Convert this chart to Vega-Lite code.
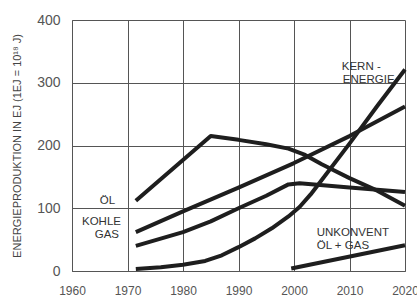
{
  "$schema": "https://vega.github.io/schema/vega-lite/v6.json",
  "autosize": "none",
  "padding": {"left": 72, "top": 20, "right": 12, "bottom": 29},
  "width": 333,
  "height": 251,
  "background": "white",
  "config": {
    "view": {"stroke": null},
    "font": "Liberation Sans"
  },
  "datasets": {
    "lines": [
      {"series": "Öl", "year": 1971.5, "value": 112},
      {"series": "Öl", "year": 1985, "value": 215},
      {"series": "Öl", "year": 1990, "value": 209},
      {"series": "Öl", "year": 1995, "value": 202},
      {"series": "Öl", "year": 1999, "value": 195},
      {"series": "Öl", "year": 2002, "value": 185},
      {"series": "Öl", "year": 2005, "value": 170},
      {"series": "Öl", "year": 2010, "value": 148},
      {"series": "Öl", "year": 2015, "value": 128},
      {"series": "Öl", "year": 2020, "value": 104},
      {"series": "Kohle", "year": 1971.5, "value": 62},
      {"series": "Kohle", "year": 1980, "value": 95},
      {"series": "Kohle", "year": 1990, "value": 133},
      {"series": "Kohle", "year": 2000, "value": 172},
      {"series": "Kohle", "year": 2010, "value": 215},
      {"series": "Kohle", "year": 2020, "value": 262},
      {"series": "Gas", "year": 1971.5, "value": 40},
      {"series": "Gas", "year": 1980, "value": 62},
      {"series": "Gas", "year": 1985, "value": 79},
      {"series": "Gas", "year": 1990, "value": 100},
      {"series": "Gas", "year": 1995, "value": 120},
      {"series": "Gas", "year": 1999, "value": 138},
      {"series": "Gas", "year": 2001, "value": 140},
      {"series": "Gas", "year": 2010, "value": 133},
      {"series": "Gas", "year": 2020, "value": 126},
      {"series": "Kern", "year": 1971.5, "value": 3},
      {"series": "Kern", "year": 1976, "value": 6},
      {"series": "Kern", "year": 1980, "value": 10},
      {"series": "Kern", "year": 1984, "value": 16},
      {"series": "Kern", "year": 1987, "value": 25},
      {"series": "Kern", "year": 1990, "value": 38},
      {"series": "Kern", "year": 1993, "value": 52},
      {"series": "Kern", "year": 1996, "value": 68},
      {"series": "Kern", "year": 1999, "value": 87},
      {"series": "Kern", "year": 2001, "value": 102},
      {"series": "Kern", "year": 2003, "value": 122},
      {"series": "Kern", "year": 2005, "value": 145},
      {"series": "Kern", "year": 2010, "value": 203},
      {"series": "Kern", "year": 2015, "value": 263},
      {"series": "Kern", "year": 2020, "value": 321},
      {"series": "Unkonvent", "year": 1999.5, "value": 4},
      {"series": "Unkonvent", "year": 2020, "value": 41}
    ],
    "labels": [
      {"label": "ÖL", "year": 1965, "value": 111},
      {"label": "KOHLE", "year": 1961.8, "value": 78},
      {"label": "GAS", "year": 1964.1, "value": 57},
      {"label": "KERN -", "year": 2008.6, "value": 325},
      {"label": "ENERGIE", "year": 2008.8, "value": 304},
      {"label": "UNKONVENT", "year": 2004.1, "value": 61},
      {"label": "ÖL + GAS", "year": 2004.1, "value": 40}
    ]
  },
  "layer": [
    {
      "data": {"name": "lines"},
      "mark": {"type": "line", "stroke": "#1e1e1e", "strokeWidth": 4, "interpolate": "linear", "strokeJoin": "round", "strokeCap": "butt"},
      "encoding": {
        "x": {
          "field": "year", "type": "quantitative",
          "scale": {"domain": [1960, 2020], "nice": false, "zero": false},
          "axis": {
            "values": [1960, 1970, 1980, 1990, 2000, 2010, 2020],
            "format": "d", "title": null,
            "grid": true, "gridColor": "#555", "gridOpacity": 1, "gridWidth": 1,
            "domain": true, "domainColor": "#555", "domainWidth": 1,
            "ticks": false, "labelPadding": 14,
            "labelFontSize": 12, "labelColor": "#555", "labelFont": "Liberation Sans",
            "labelFlush": false
          }
        },
        "y": {
          "field": "value", "type": "quantitative",
          "scale": {"domain": [0, 400], "nice": false},
          "axis": {
            "values": [0, 100, 200, 300, 400],
            "title": "ENERGIEPRODUKTION IN EJ (1EJ = 10¹⁸ J)",
            "titleFont": "Liberation Sans", "titleFontSize": 11, "titleFontWeight": "normal",
            "titleColor": "#444", "titlePadding": 14,
            "grid": true, "gridColor": "#555", "gridOpacity": 1, "gridWidth": 1,
            "domain": true, "domainColor": "#555", "domainWidth": 1,
            "ticks": false, "labelPadding": 12,
            "labelFontSize": 14, "labelColor": "#555", "labelFont": "Liberation Sans",
            "labelFlush": false
          }
        },
        "detail": {"field": "series"}
      }
    },
    {
      "data": {"name": "labels"},
      "mark": {"type": "text", "align": "left", "baseline": "middle", "fontSize": 11.5, "font": "Liberation Sans", "color": "#333"},
      "encoding": {
        "x": {"field": "year", "type": "quantitative"},
        "y": {"field": "value", "type": "quantitative"},
        "text": {"field": "label"}
      }
    }
  ]
}
